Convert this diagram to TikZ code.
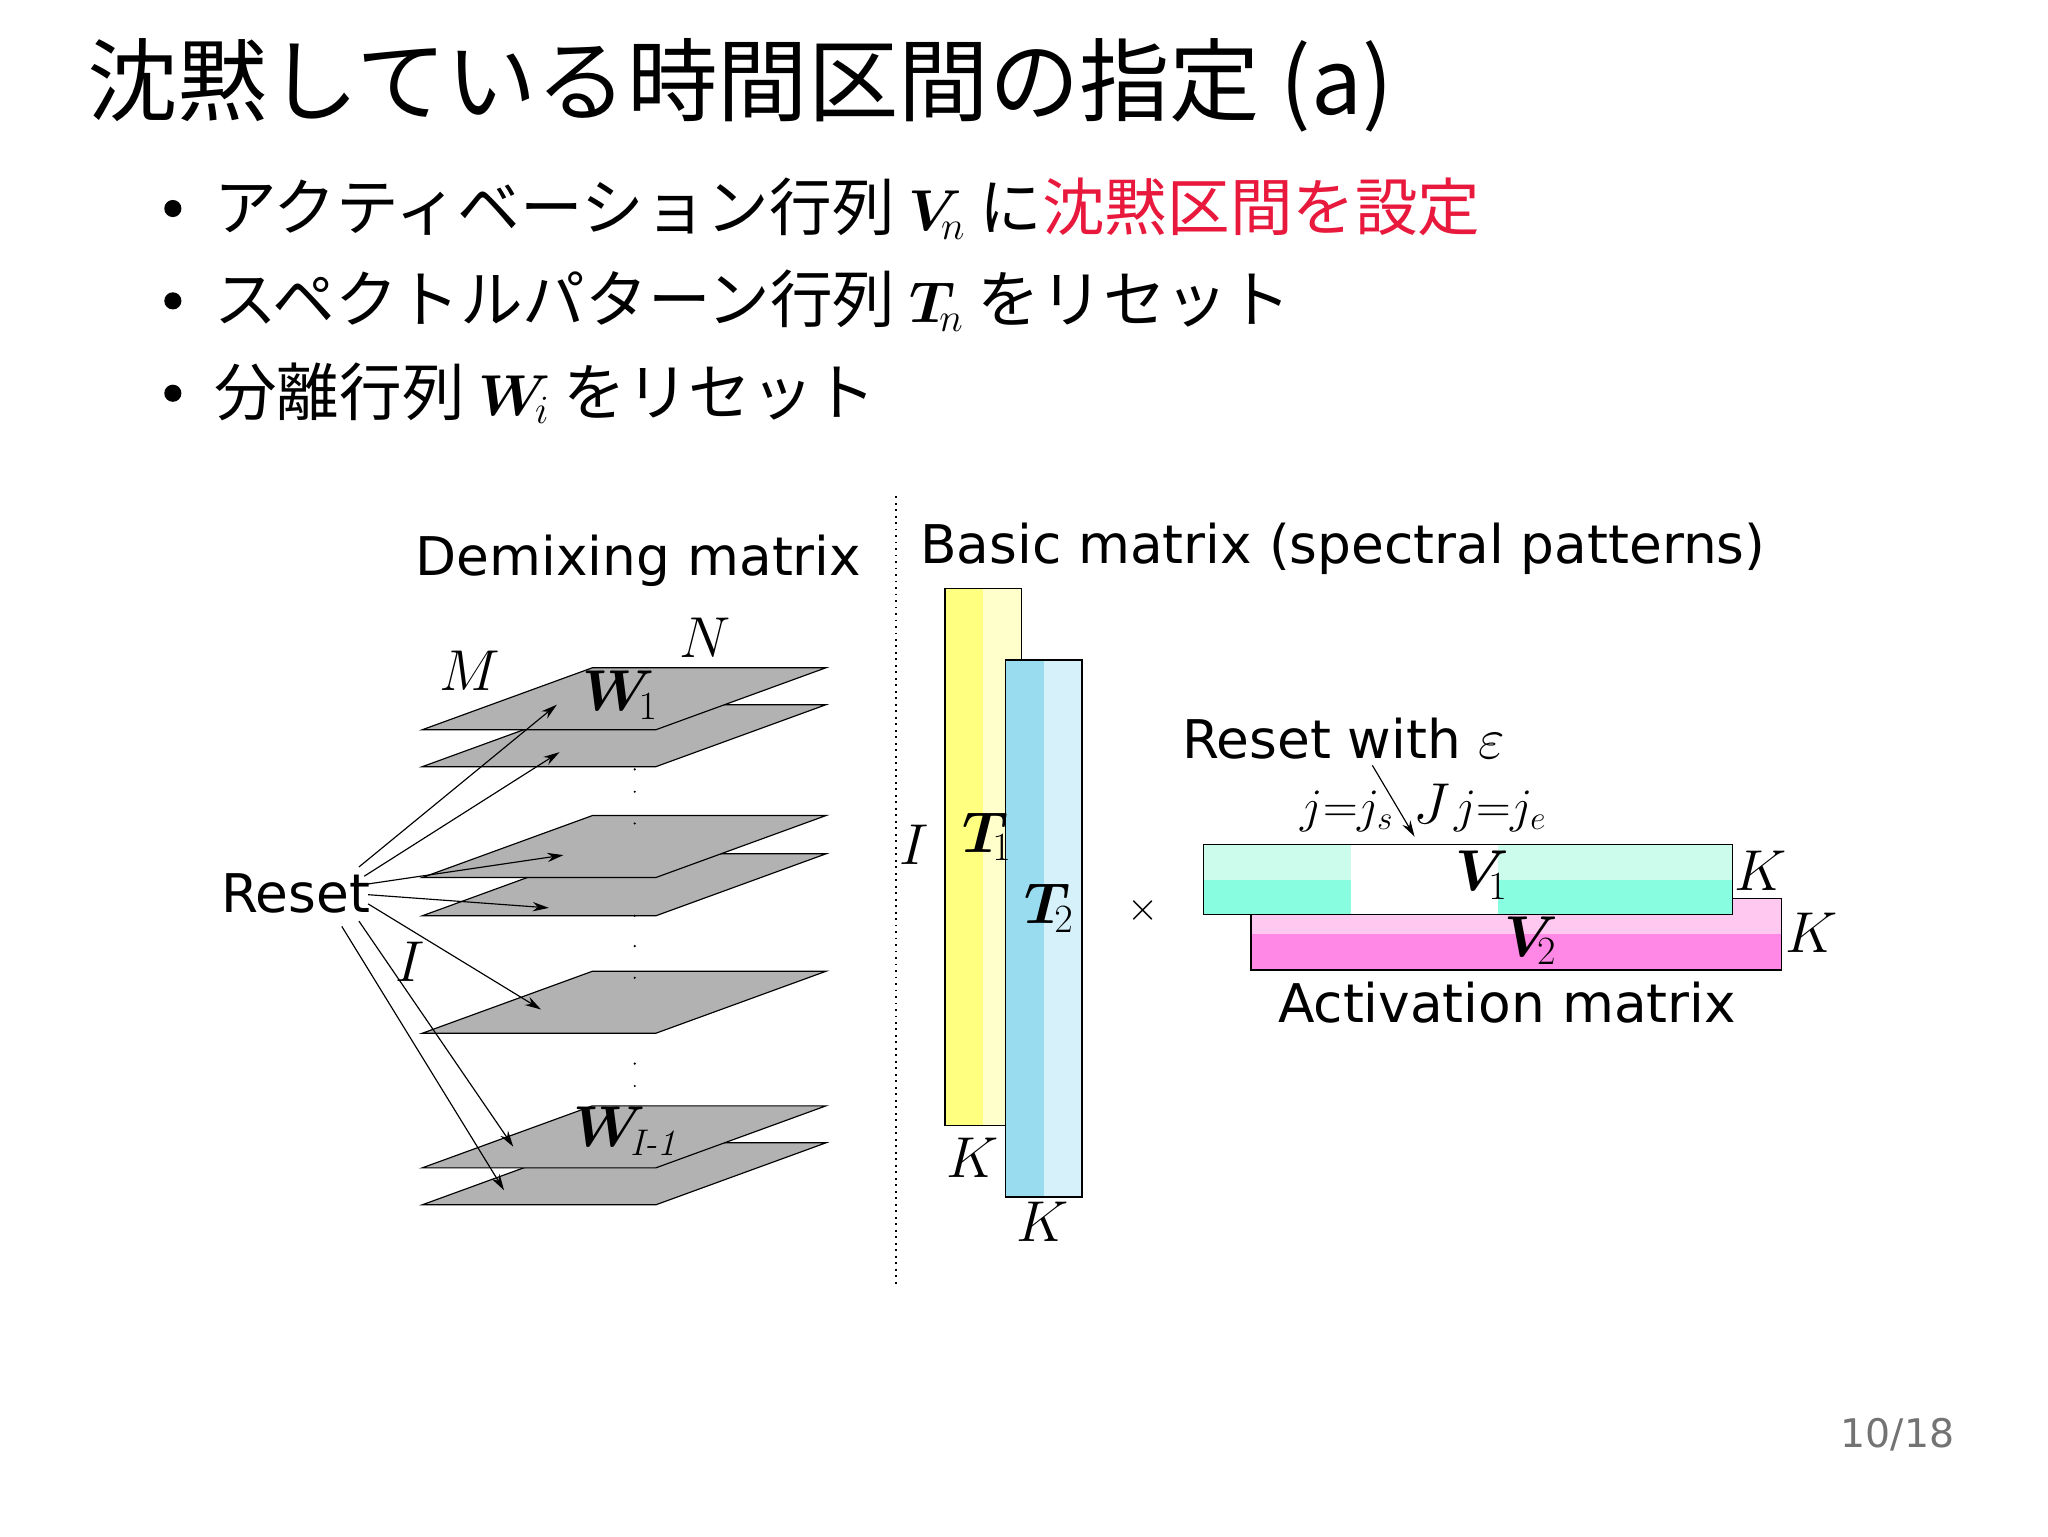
\documentclass[tikz,border=0pt]{standalone}
\usepackage{fontspec}
\usepackage{bm}
\setmainfont{DejaVu Sans}
\newfontfamily\jp{Noto Sans CJK JP}
\newfontfamily\lmr{Latin Modern Roman}
\usetikzlibrary{arrows.meta}
\definecolor{myred}{HTML}{E8193C}
\definecolor{bdark}{HTML}{99DCEF}
\definecolor{blight}{HTML}{D6F1F9}
\definecolor{ydark}{HTML}{FFFF80}
\definecolor{ylight}{HTML}{FFFFCC}
\definecolor{pl}{HTML}{FFC8F0}
\definecolor{pd}{HTML}{FF88E6}
\definecolor{ml}{HTML}{CCFCEC}
\definecolor{md}{HTML}{88FDE0}
\tikzset{
  plane/.style={fill=black!30,draw=black,line width=0.5pt},
  arr/.style={-{Stealth[length=7pt,width=4pt]},line width=0.5pt},
  lbl/.style={font=\fontsize{23}{27}\selectfont,inner sep=0pt},
  mlbl/.style={font=\fontsize{25}{29}\selectfont,inner sep=0pt},
  bul/.style={anchor=west,font=\jp\fontsize{27}{31}\selectfont,inner sep=0pt},
  box/.style={draw=black,line width=0.6pt},
}
\begin{document}
\begin{tikzpicture}[x=0.02cm,y=-0.02cm]
\useasboundingbox (0,0) rectangle (1552,1164);
\fill[white] (0,0) rectangle (1552,1164);
\node[anchor=west,inner sep=0pt,font=\jp\fontsize{39}{44}\selectfont] (title) at (66,65) {沈黙している時間区間の指定 (a)};
\foreach \y/\n in {158/b1,228/b2,298/b3}{\fill (131,\y) circle (6.5);}
\node[bul] (l1) at (162,158) {アクティベーション行列 $\bm{V}_{\!n}$ に\textcolor{myred}{沈黙区間を設定}};
\node[bul] (l2) at (162,228) {スペクトルパターン行列 $\bm{T}_{\!n}$ をリセット};
\node[bul] (l3) at (162,298) {分離行列 $\bm{W}_{\!i}$ をリセット};
\draw[dotted,line width=0.8pt] (679,376) -- (679,976);
\node[lbl,anchor=east] (dm) at (653,425) {Demixing matrix};
\node[lbl,anchor=west] (bm) at (697,416) {Basic matrix (spectral patterns)};
\foreach \t/\n in {866/p7,838/p6,736/p5,647/p4,618/p3,534/p2,506/p1}{
  \draw[plane] (449,\t) -- (626,\t) -- (497,\t+47) -- (320,\t+47) -- cycle;
}
\foreach \y in {583,600,624,694,717,741,806,823,840}{\fill (481,\y) circle (0.9);}
\node[mlbl] (M) at (356,508) {$M$};
\node[mlbl] (N) at (534,483) {$N$};
\node[mlbl] (I) at (311,729) {$I$};
\node[mlbl] (W1) at (470,527) {$\bm{W}_{\!1}$};
\node[mlbl] (WI) at (474,857) {$\bm{W}_{\!\mbox{\lmr\itshape\fontsize{16}{18}\selectfont I-1}}$};
\node[lbl] (R) at (224,677) {Reset};
\coordinate (a1) at (422,534);
\coordinate (a2) at (424,570);
\coordinate (a3) at (427,648);
\coordinate (a4) at (416,688);
\coordinate (a5) at (410,765);
\coordinate (a6) at (389,869);
\coordinate (a7) at (382,902);
\draw[arr] (272,657) -- (a1);
\draw[arr] (276,664) -- (a2);
\draw[arr] (278,670) -- (a3);
\draw[arr] (279,678) -- (a4);
\draw[arr] (279,685) -- (a5);
\draw[arr] (272,698) -- (a6);
\draw[arr] (259,702) -- (a7);
\fill[ydark] (716,446) rectangle (745,853);
\fill[ylight] (745,446) rectangle (774,853);
\draw[box] (716,446) rectangle (774,853);
\fill[bdark] (762,500) rectangle (791,907);
\fill[blight] (791,500) rectangle (820,907);
\draw[box] (762,500) rectangle (820,907);
\node[mlbl] (I2) at (693,640) {$I$};
\node[mlbl] (T1) at (748,634) {$\bm{T}_{\!1}$};
\node[mlbl] (T2) at (795,688) {$\bm{T}_{\!2}$};
\node[mlbl] (K1) at (737,877) {$K$};
\node[mlbl] (K2) at (790,926) {$K$};
\node[font=\fontsize{18}{20}\selectfont,inner sep=0pt] (x) at (866,690) {$\times$};
\fill[pl] (948,681) rectangle (1350,708);
\fill[pd] (948,708) rectangle (1350,735);
\draw[box] (948,681) rectangle (1350,735);
\fill[ml] (912,640) rectangle (1024,667);
\fill[md] (912,667) rectangle (1024,693);
\fill[white] (1024,640) rectangle (1135,693);
\fill[ml] (1135,640) rectangle (1313,667);
\fill[md] (1135,667) rectangle (1313,693);
\draw[box] (912,640) rectangle (1313,693);
\node[mlbl] (V1) at (1123,663) {$\bm{V}_{\!1}$};
\node[mlbl] (V2) at (1160,713) {$\bm{V}_{\!2}$};
\node[mlbl] (K3) at (1334,660) {$K$};
\node[mlbl] (K4) at (1373,707) {$K$};
\node[lbl] (rw) at (1018,560) {Reset with $\varepsilon$};
\coordinate (ae) at (1072,634);
\draw[arr] (1040,580) -- (ae);
\node[font=\fontsize{22}{26}\selectfont,inner sep=0pt] (js) at (1021,615) {$j{=}j_s$};
\node[mlbl] (J) at (1085,609) {$J$};
\node[font=\fontsize{22}{26}\selectfont,inner sep=0pt] (je) at (1137,615) {$j{=}j_e$};
\node[lbl] (am) at (1142,760) {Activation matrix};
\node[inner sep=0pt,font=\fontsize{17}{20}\selectfont,text=black!55] (pg) at (1438,1087) {10/18};
\end{tikzpicture}
\end{document}
